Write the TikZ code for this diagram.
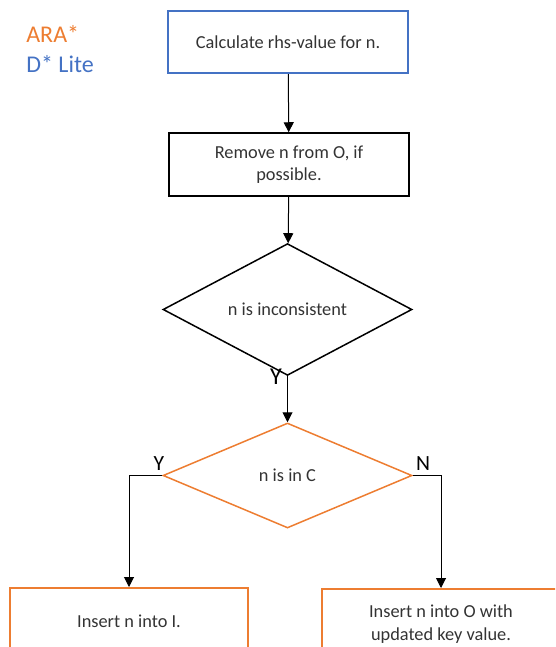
\documentclass[tikz,border=0pt]{standalone}
\usepackage{fontspec}
\setmainfont{Carlito}
\usepackage{tikz}
\usetikzlibrary{shapes.geometric}
\usetikzlibrary{arrows.meta}

\definecolor{araOrange}{RGB}{237,125,49}
\definecolor{liteBlue}{RGB}{68,114,196}

\begin{document}
\begin{tikzpicture}[x=0.6pt, y=-0.6pt]
\tikzstyle{stepBox} =
[
	shape			= rectangle,		% shape
	minimum width	= 144pt,			% | minimum size
	minimum height	= 37.5pt,			% |
	line width		= 1.2pt,			% thickness of the border
	draw			= black,			% colour of the border
	text			= black!80,			% colour of the text
	align			= center,			% multi-line text
	font			= \fontsize{11pt}{13.5pt}\selectfont,
	inner sep		= 0pt
]
\tikzstyle{testNode} =
[
	shape			= diamond,			% shape
	minimum width	= 149.4pt,			% | minimum size
	minimum height	= 63pt,				% |
	line width		= 0.9pt,			% thickness of the border
	draw			= black,			% colour of the border
	text			= black!80,
	font			= \fontsize{11pt}{13.5pt}\selectfont,
	inner sep		= 0pt
]
\tikzstyle{answer} = [font = \fontsize{13pt}{15pt}\selectfont, inner sep = 0pt]
\tikzstyle{legend} = [font = \fontsize{14.4pt}{17pt}\selectfont, anchor = west, inner sep = 0pt]
\tikzstyle{flow} = [line width = 0.6pt, -{Triangle[length=6pt, width=6pt]}]

\useasboundingbox (0,0) rectangle (555,647);
\clip (0,0) rectangle (555,647);

% legend
\node (ara) [legend, text = araOrange] at (26,34) {ARA*};
\node (dlite) [legend, text = liteBlue] at (26,64) {D* Lite};

% flow chart
\node (rhs) [stepBox, draw = liteBlue] at (288,42) {Calculate rhs-value for n.};
\node (remove) [stepBox] at (289,164.5) {Remove n from O, if\\possible.};
\node (inconsistent) [testNode] at (287.5,309.5) {n is inconsistent};
\node (closed) [testNode, draw = araOrange] at (287.5,475.5) {n is in C};
\node (insertI) [stepBox, draw = araOrange, minimum width = 142.8pt, minimum height = 42pt] at (129,623) {\raisebox{2pt}{Insert n into I.}};
\node (insertO) [stepBox, draw = araOrange, minimum width = 142.8pt, minimum height = 42pt] at (441,624) {Insert n into O with\\updated key value.};

\draw [flow] (rhs) -- (remove);
\draw [flow] (remove) -- (inconsistent);
\draw [flow] (inconsistent) -- (closed);
\draw [flow] (closed.west) -| (insertI.north);
\draw [flow] (closed.east) -| (insertO.north);

% answers
\node (yesA) [answer, font = \fontsize{14.5pt}{16pt}\selectfont] at (276,377) {Y};
\node (yesB) [answer] at (159,464) {Y};
\node (noB) [answer] at (423,464) {N};
\end{tikzpicture}
\end{document}
